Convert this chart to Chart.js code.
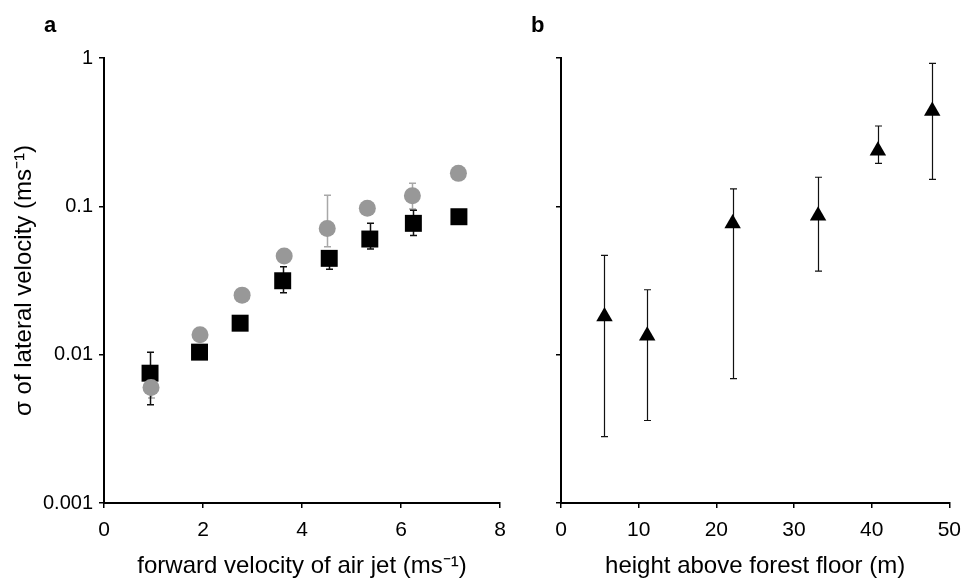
<!DOCTYPE html>
<html>
<head>
<meta charset="utf-8">
<script src="https://cdn.jsdelivr.net/npm/chart.js@4.4.1/dist/chart.umd.min.js"></script>
<style>
  body { margin: 0; background: #fff; }
  #wrap { position: relative; width: 971px; height: 581px; }
  #chartA { position: absolute; left: 0; top: 0; }
  #chartB { position: absolute; left: 520px; top: 0; }
  .panel { position: absolute; font: bold 22px "Liberation Sans", Arial, sans-serif; color: #000; line-height: 22px; }
</style>
</head>
<body>
<div id="wrap">
  <canvas id="chartA" width="520" height="581"></canvas>
  <canvas id="chartB" width="451" height="581"></canvas>
  <div class="panel" style="left:44px; top:14px;">a</div>
  <div class="panel" style="left:531px; top:14px;">b</div>
</div>
<script>
// Panel a: vitesse du jet d'air
const jetSpeedSq = [0.93, 1.93, 2.75, 3.61, 4.55, 5.37, 6.25, 7.17];
const sigmaSq = [0.0075, 0.0104, 0.0163, 0.0315, 0.0446, 0.0602, 0.0768, 0.0851];
const sqLow = [0.0046, null, null, 0.0261, 0.0376, 0.0515, 0.0637, null];
const sqHigh = [0.0104, null, null, 0.0392, 0.0484, 0.0768, 0.094, null];

const jetSpeedCirc = [0.95, 1.94, 2.79, 3.64, 4.51, 5.32, 6.23, 7.16];
const sigmaCirc = [0.006, 0.0136, 0.0252, 0.0462, 0.071, 0.0969, 0.118, 0.1668];
const circLow = [0.0051, null, null, null, 0.0534, null, 0.096, null];
const circHigh = [0.0068, null, null, null, 0.119, null, 0.143, null];

// Panel b: hauteur dans la forêt
const heights = [5.6, 11.1, 22.1, 33.1, 40.8, 47.8];
const sigmaHeight = [0.0181, 0.0134, 0.0766, 0.0863, 0.237, 0.44];
const heightLow = [0.0028, 0.0036, 0.0069, 0.0366, 0.195, 0.152];
const heightHigh = [0.0467, 0.0274, 0.131, 0.157, 0.348, 0.92];

const yTicks = [0.001, 0.01, 0.1, 1];
const yTickLabels = ['0.001', '0.01', '0.1', '1'];

const FONT = '"Liberation Sans", Arial, sans-serif';
const GREY = '#989898';

function pts(xs, ys) {
  return xs.map((x, i) => ({ x: x, y: ys[i] }));
}

// barres d'erreur dessinées avant les points
const errorBars = {
  id: 'errorBars',
  beforeDatasetsDraw(chart) {
    const ctx = chart.ctx;
    const xs = chart.scales.x, ys = chart.scales.y;
    chart.data.datasets.forEach(ds => {
      if (!ds.errLow) return;
      ctx.save();
      ctx.strokeStyle = ds.errColor;
      ctx.lineWidth = ds.errWidth;
      ds.data.forEach((p, i) => {
        const lo = ds.errLow[i], hi = ds.errHigh[i];
        if (lo == null) return;
        const px = Math.round(xs.getPixelForValue(p.x)) + 0.5;
        const y1 = ys.getPixelForValue(lo);
        const y2 = ys.getPixelForValue(hi);
        ctx.beginPath();
        ctx.moveTo(px, y1); ctx.lineTo(px, y2);
        ctx.moveTo(px - 3.5, y1); ctx.lineTo(px + 3.5, y1);
        ctx.moveTo(px - 3.5, y2); ctx.lineTo(px + 3.5, y2);
        ctx.stroke();
      });
      ctx.restore();
    });
  }
};

function yScale(showLabels, width) {
  return {
    type: 'logarithmic',
    min: 0.001,
    max: 1,
    afterBuildTicks: s => { s.ticks = yTicks.map(v => ({ value: v })); },
    afterFit: s => { s.width = width; },
    border: { display: true, color: '#000', width: 2 },
    grid: { display: true, drawOnChartArea: false, drawTicks: true, tickLength: 5, color: '#000', lineWidth: 1.5 },
    ticks: {
      display: showLabels,
      padding: 6,
      color: '#000',
      font: { family: FONT, size: 20 },
      callback: v => yTickLabels[yTicks.indexOf(v)]
    },
    title: {
      display: showLabels,
      text: 'σ of lateral velocity (ms⁻¹)',
      color: '#000',
      font: { family: FONT, size: 24 },
      padding: { top: 10, bottom: 0 }
    }
  };
}

function xScale(max, step, text) {
  return {
    type: 'linear',
    min: 0,
    max: max,
    afterFit: s => { s.height = 78; },
    border: { display: true, color: '#000', width: 2 },
    grid: { display: true, drawOnChartArea: false, drawTicks: true, tickLength: 5, color: '#000', lineWidth: 1.5 },
    ticks: { stepSize: step, padding: 10, color: '#000', font: { family: FONT, size: 21 } },
    title: {
      display: true,
      text: text,
      color: '#000',
      font: { family: FONT, size: 24 },
      padding: { top: 0, bottom: 0 }
    }
  };
}

const common = {
  responsive: false,
  animation: false,
  plugins: { legend: { display: false }, tooltip: { enabled: false } }
};

new Chart(document.getElementById('chartA'), {
  type: 'scatter',
  data: {
    datasets: [
      {
        data: pts(jetSpeedCirc, sigmaCirc),
        pointStyle: 'circle',
        pointRadius: 8.5,
        backgroundColor: GREY,
        borderWidth: 0,
        errLow: circLow, errHigh: circHigh, errColor: '#a8a8a8', errWidth: 1.5
      },
      {
        data: pts(jetSpeedSq, sigmaSq),
        pointStyle: 'rect',
        pointRadius: 12,
        backgroundColor: '#000',
        borderWidth: 0,
        errLow: sqLow, errHigh: sqHigh, errColor: '#111', errWidth: 1.5
      }
    ]
  },
  options: Object.assign({}, common, {
    layout: { padding: { left: 0, top: 58, right: 20, bottom: 0 } },
    scales: {
      x: xScale(8, 2, 'forward velocity of air jet (ms⁻¹)'),
      y: yScale(true, 104)
    }
  }),
  plugins: [errorBars]
});

new Chart(document.getElementById('chartB'), {
  type: 'scatter',
  data: {
    datasets: [
      {
        data: pts(heights, sigmaHeight),
        pointStyle: 'triangle',
        pointRadius: 9.5,
        backgroundColor: '#000',
        borderWidth: 0,
        errLow: heightLow, errHigh: heightHigh, errColor: '#111', errWidth: 1.2
      }
    ]
  },
  options: Object.assign({}, common, {
    layout: { padding: { left: 0, top: 58, right: 13, bottom: 0 } },
    scales: {
      x: xScale(50, 10, 'height above forest floor (m)'),
      y: yScale(false, 41)
    }
  }),
  plugins: [errorBars]
});
</script>
</body>
</html>
